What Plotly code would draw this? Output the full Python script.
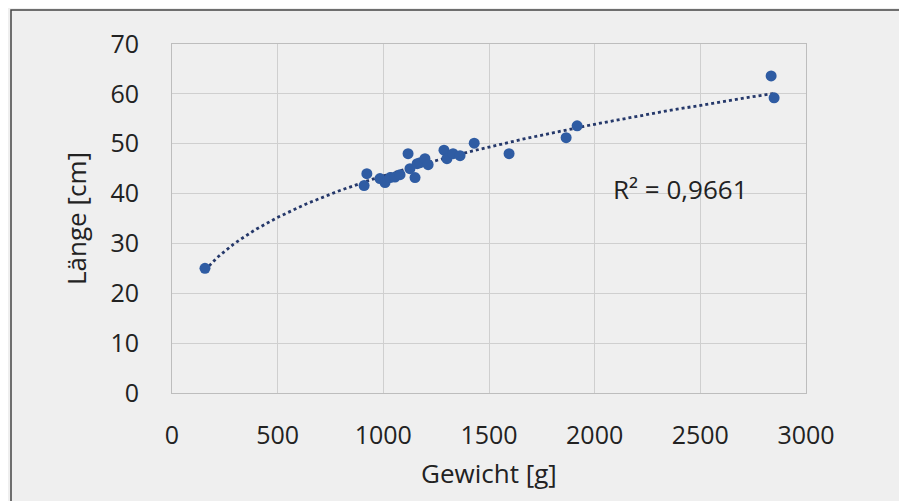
import numpy as np
import plotly.graph_objects as go

# Data (Gewicht [g], Länge [cm])
gewicht = [156, 909, 922, 984, 1008, 1032, 1055, 1079, 1117, 1126, 1150, 1160,
           1174, 1197, 1212, 1287, 1301, 1330, 1363, 1430, 1595, 1865, 1917,
           2835, 2849]
laenge = [25.0, 41.6, 44.0, 43.0, 42.2, 43.2, 43.3, 43.8, 48.0, 45.0, 43.2, 46.0,
          46.2, 47.0, 45.8, 48.7, 47.0, 48.0, 47.6, 50.1, 48.0, 51.2, 53.6,
          63.6, 59.2]

x_ticks = [0, 500, 1000, 1500, 2000, 2500, 3000]
y_ticks = [0, 10, 20, 30, 40, 50, 60, 70]
r2_text = "R² = 0,9661"

# Power trendline (least squares on log-log, like Excel)
gx = np.array(gewicht, dtype=float)
gy = np.array(laenge, dtype=float)
b, ln_a = np.polyfit(np.log(gx), np.log(gy), 1)
tx = np.linspace(gx.min(), gx.max(), 200)
ty = np.exp(ln_a) * tx ** b

FONT = "Open Sans"
W, H = 899, 493
L, R, T, B = 164, 101, 36, 108
PW, PH = W - L - R, H - T - B

fig = go.Figure()
fig.add_trace(go.Scatter(x=tx, y=ty, mode="lines",
                         line=dict(color="#25386a", width=2.8, dash="dot"),
                         hoverinfo="skip", showlegend=False))
fig.add_trace(go.Scatter(x=gewicht, y=laenge, mode="markers",
                         marker=dict(color="#2f5ca3", size=11,
                                     line=dict(width=0)),
                         showlegend=False))

fig.add_annotation(x=2078, y=41, xref="x", yref="y", text=r2_text,
                   showarrow=False, xanchor="left", yanchor="middle",
                   font=dict(family=FONT, size=26, color="#222222"))

# outer chart frame
fig.add_shape(type="rect", xref="paper", yref="paper",
              x0=(3 - L) / PW, x1=(894 - L) / PW,
              y0=(PH + T - 520) / PH, y1=(PH + T - 2) / PH,
              line=dict(color="#444444", width=1.5), layer="below")

fig.update_layout(
    width=W, height=H,
    margin=dict(l=L, r=R, t=T, b=B),
    paper_bgcolor="#efefef", plot_bgcolor="#efefef",
    font=dict(family=FONT, size=25, color="#222222"),
    xaxis=dict(range=[0, 3000], tickvals=x_ticks, ticks="",
               showgrid=True, gridcolor="#cfcfcf", gridwidth=1,
               zeroline=False, showline=True, linecolor="#bdbdbd", mirror=True,
               ticklabelstandoff=20,
               tickfont=dict(family=FONT, size=25),
               title=dict(text="Gewicht [g]", standoff=14,
                          font=dict(family=FONT, size=26))),
    yaxis=dict(range=[0, 70], tickvals=y_ticks, ticks="",
               showgrid=True, gridcolor="#cfcfcf", gridwidth=1,
               zeroline=False, showline=True, linecolor="#bdbdbd", mirror=True,
               ticklabelstandoff=27,
               tickfont=dict(family=FONT, size=25),
               title=dict(text="Länge [cm]", standoff=16,
                          font=dict(family=FONT, size=26))),
)

fig.write_html("out.html")
